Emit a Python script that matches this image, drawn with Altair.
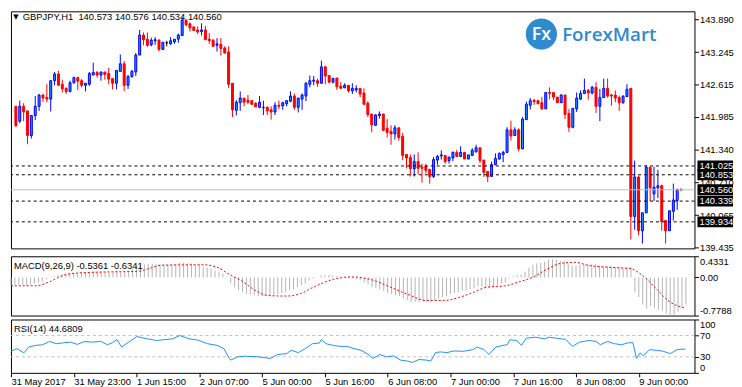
import altair as alt
import pandas as pd

# ---------------- data ----------------
idx = list(range(173))
opens = [142.19,141.90,142.19,142.10,141.62,142.01,142.19,142.41,142.36,142.33,
142.69,142.82,142.62,142.54,142.48,142.65,142.75,142.69,142.60,142.62,
142.80,142.85,142.80,142.86,142.83,142.73,142.64,142.87,143.02,142.60,
142.77,142.86,143.19,143.58,143.50,143.39,143.47,143.48,143.30,143.43,
143.41,143.45,143.50,143.57,143.87,143.80,143.74,143.68,143.65,143.68,
143.50,143.48,143.38,143.40,143.33,143.25,142.64,142.11,142.26,142.35,
142.31,142.30,142.25,142.17,142.16,142.17,142.12,142.08,142.21,142.20,
142.24,142.29,142.39,142.17,142.33,142.39,142.62,142.68,142.69,142.64,
142.96,142.79,142.66,142.74,142.58,142.55,142.60,142.49,142.51,142.54,
142.45,142.25,142.04,141.82,142.01,142.04,141.76,141.70,141.65,141.77,
141.60,141.25,141.19,140.97,141.11,141.00,141.02,140.96,140.82,141.14,
141.22,141.23,141.13,141.18,141.29,141.21,141.29,141.16,141.23,141.30,
141.38,141.14,140.92,140.82,141.05,141.16,141.25,141.29,141.73,141.62,
141.73,141.36,141.93,142.21,142.31,142.30,142.26,142.14,142.46,142.46,
142.37,142.26,142.41,142.05,141.78,142.14,142.33,142.44,142.50,142.45,
142.56,142.19,142.36,142.54,142.41,142.41,142.36,142.26,142.38,142.54,
140.04,140.81,139.76,140.11,141.00,140.48,140.60,140.64,139.96,139.76,
140.14,140.35,140.573]
highs = [142.19,142.30,142.25,142.10,142.02,142.39,142.43,142.43,142.62,142.69,
142.86,142.88,142.71,142.56,142.69,142.77,142.77,142.72,142.64,142.86,
143.04,142.88,142.86,142.86,142.94,142.73,142.89,143.20,143.07,142.80,
142.90,143.23,143.68,143.63,143.63,143.53,143.54,143.50,143.44,143.47,
143.54,143.50,143.61,143.93,143.89,143.83,143.75,143.75,143.81,143.76,
143.62,143.50,143.52,143.52,143.36,143.36,142.64,142.31,142.48,142.35,
142.41,142.31,142.27,142.39,142.30,142.19,142.19,142.27,142.30,142.28,
142.31,142.48,142.44,142.35,142.44,142.66,142.79,142.78,142.73,143.08,
142.98,142.79,142.75,142.75,142.66,142.64,142.60,142.64,142.60,142.54,
142.54,142.29,142.04,142.04,142.09,142.04,141.94,141.82,141.82,141.77,
141.67,141.25,141.25,141.25,141.29,141.07,141.07,140.96,141.20,141.24,
141.33,141.23,141.20,141.31,141.34,141.41,141.29,141.24,141.37,141.44,
141.38,141.14,140.92,141.11,141.27,141.29,141.32,141.78,141.91,141.78,
141.76,141.98,142.28,142.35,142.33,142.32,142.37,142.46,142.56,142.46,
142.37,142.43,142.41,142.14,142.15,142.46,142.50,142.73,142.53,142.59,
142.66,142.53,142.73,142.73,142.43,142.50,142.40,142.40,142.62,142.54,
141.13,140.84,140.11,141.04,141.00,141.01,140.95,140.66,139.96,140.15,
140.68,140.57,140.576]
lows = [141.79,141.86,141.90,141.45,141.56,141.92,142.10,142.27,142.27,142.09,
142.60,142.60,142.46,142.43,142.46,142.63,142.51,142.56,142.48,142.59,
142.80,142.75,142.69,142.71,142.62,142.52,142.52,142.87,142.49,142.53,
142.75,142.78,143.19,143.38,143.35,143.36,143.39,143.26,143.30,143.36,
143.39,143.41,143.43,143.57,143.75,143.65,143.67,143.60,143.57,143.48,
143.41,143.35,143.26,143.18,143.22,142.55,141.98,142.01,142.10,142.19,
142.23,142.22,142.17,142.15,142.02,142.02,141.93,142.02,142.14,142.12,
142.19,142.27,142.12,142.07,142.12,142.29,142.56,142.60,142.57,142.64,
142.62,142.64,142.64,142.51,142.54,142.55,142.46,142.43,142.46,142.37,
142.21,141.98,141.68,141.81,141.95,141.71,141.58,141.44,141.54,141.52,
141.14,140.98,140.82,140.82,140.86,140.70,140.88,140.68,140.79,141.05,
141.15,141.07,141.07,141.12,141.20,141.20,141.16,141.16,141.22,141.29,
141.08,140.81,140.71,140.82,141.04,141.15,141.10,141.29,141.52,141.61,
141.31,141.35,141.92,142.13,142.22,142.23,142.12,142.14,142.33,142.31,
142.26,142.26,141.94,141.69,141.76,142.08,142.31,142.43,142.32,142.42,
142.06,141.90,142.36,142.36,142.20,142.27,142.10,142.24,142.38,139.59,
139.78,139.67,139.51,140.11,140.34,140.34,140.40,139.76,139.51,139.76,
139.96,140.17,140.534]
closes = [141.81,142.19,142.08,141.62,142.01,142.19,142.41,142.35,142.33,142.69,
142.82,142.60,142.53,142.48,142.65,142.75,142.68,142.60,142.64,142.83,
142.85,142.80,142.86,142.81,142.72,142.64,142.89,143.02,142.60,142.77,
142.87,143.19,143.58,143.49,143.38,143.48,143.49,143.30,143.44,143.43,
143.47,143.50,143.58,143.87,143.78,143.72,143.67,143.64,143.68,143.49,
143.47,143.36,143.41,143.32,143.23,142.62,142.12,142.27,142.35,142.27,
142.27,142.23,142.18,142.27,142.17,142.10,142.08,142.21,142.19,142.26,
142.30,142.39,142.17,142.35,142.41,142.64,142.69,142.70,142.64,142.96,
142.78,142.66,142.73,142.57,142.54,142.60,142.49,142.54,142.54,142.43,
142.23,142.03,141.83,142.02,142.04,141.72,141.68,141.65,141.77,141.58,
141.23,141.18,140.97,141.11,140.98,140.98,140.94,140.82,141.15,141.21,
141.24,141.11,141.20,141.29,141.21,141.29,141.16,141.24,141.33,141.38,
141.13,140.90,140.82,141.05,141.17,141.27,141.29,141.73,141.61,141.73,
141.36,141.94,142.23,142.30,142.28,142.24,142.14,142.46,142.44,142.37,
142.26,142.41,142.03,141.78,142.15,142.35,142.44,142.50,142.45,142.56,
142.19,142.36,142.54,142.39,142.39,142.35,142.26,142.39,142.52,140.04,
140.81,139.76,140.11,141.00,140.60,140.61,140.64,139.94,139.76,140.15,
140.36,140.57,140.560]

macd_hist = [-0.16,-0.15,-0.15,-0.16,-0.17,-0.14,-0.12,-0.10,-0.08,-0.04,
0.00,0.02,0.05,0.06,0.08,0.09,0.10,0.10,0.10,0.10,
0.11,0.12,0.12,0.12,0.11,0.10,0.11,0.14,0.11,0.12,
0.14,0.18,0.24,0.26,0.27,0.28,0.28,0.27,0.27,0.27,
0.27,0.27,0.28,0.30,0.30,0.29,0.28,0.26,0.26,0.22,
0.20,0.18,0.14,0.11,0.08,0.02,-0.12,-0.20,-0.26,-0.30,
-0.34,-0.35,-0.37,-0.38,-0.38,-0.38,-0.38,-0.36,-0.34,-0.32,
-0.30,-0.26,-0.24,-0.20,-0.16,-0.12,-0.06,-0.02,0.00,0.04,
0.05,0.05,0.04,0.03,0.02,0.00,-0.02,-0.02,-0.04,-0.06,
-0.10,-0.14,-0.20,-0.22,-0.24,-0.28,-0.32,-0.34,-0.36,-0.38,
-0.43,-0.46,-0.50,-0.50,-0.50,-0.50,-0.50,-0.51,-0.46,-0.43,
-0.40,-0.37,-0.34,-0.32,-0.30,-0.27,-0.26,-0.24,-0.22,-0.18,
-0.19,-0.22,-0.22,-0.20,-0.16,-0.12,-0.10,-0.02,0.02,0.05,
0.06,0.12,0.20,0.26,0.29,0.30,0.32,0.36,0.37,0.36,
0.34,0.34,0.29,0.24,0.24,0.26,0.27,0.28,0.27,0.28,
0.24,0.22,0.24,0.23,0.22,0.22,0.20,0.21,0.22,-0.30,
-0.40,-0.55,-0.64,-0.58,-0.62,-0.66,-0.68,-0.74,-0.7788,-0.76,
-0.70,-0.62,-0.536]

sig_x = [0,6.3,9.8,13.4,16.9,22.9,32.3,34.7,38.3,48.9,52.5,56,58.4,62,65.5,70.3,73.8,77.4,82.1,86.8,
91.6,96.3,101.1,105.8,110.5,114.1,117.7,121.2,126,129.5,133.1,136.6,140.2,143.7,147.3,153.2,157.9,160.3,163.9,167.4,172]
sig_v = [-0.17,-0.17,-0.09,0.045,0.09,0.11,0.125,0.17,0.25,0.26,0.21,0.045,-0.05,-0.25,-0.37,-0.38,-0.33,-0.185,-0.04,0.01,
-0.04,-0.185,-0.345,-0.47,-0.47,-0.41,-0.31,-0.2,-0.17,-0.09,0.01,0.17,0.29,0.31,0.245,0.205,0.18,0.08,-0.185,-0.47,-0.634]

rsi_x = [0,1.5,3.3,4.5,6.3,8.1,9.8,11.6,13.4,15.2,
16.9,18.7,20.5,22.9,24.6,25.8,27,28.2,30,32.1,
34.7,37.1,39.5,41.2,43,45.4,47.7,50.1,52.5,54.3,
55.5,56,57.8,59.6,63.2,66.1,67.9,70.3,71.4,73.2,
75,76.8,78.6,79.1,80.3,82.1,83.9,85.7,87.4,89.2,
91,92.2,94,95.7,97.5,99.3,101.1,102.3,104,105.8,
107,108.2,109.4,111.1,112.9,115.3,117.7,118.8,120.6,121.8,
123.6,125.4,126.5,127.1,128.9,130.1,131.3,133.6,136,137.2,
139,141.4,143.1,144.9,147.3,149.1,150.2,152,153.8,155.6,
157.3,158.5,159.4,160.3,161.2,162.7,164.5,166.2,168,169.8,171.9]
rsi_v = [40.4,45.4,37.4,48.4,51.5,52.7,58.9,54.6,56.4,57.6,
53.3,58.9,57.6,58.9,52.7,56.4,62.5,48.4,57.6,68,
63.8,60.7,62.5,63.8,70,63.8,61.3,54.6,51.5,45.4,
28.2,23.9,30,31.2,30,27,34.3,36.1,42.3,38,
45.4,54.6,55.8,62.5,54.6,51.5,49.6,49.6,45.4,42.3,
34.9,27,34.3,30,31.8,23.9,22,19.6,25,23.9,
22,38,39.2,38,41,40.4,43.5,48.4,43.5,34.3,
48.4,51.5,52.7,61.9,60.7,51.5,65,66.8,63.8,66.8,
65,62.5,49.6,57.6,60.7,58.9,52.7,58.9,54.6,52.7,
56.4,56.4,27,37.4,31.8,43.5,42.3,40.4,36.1,43.5,44.7]

price_ticks = [143.890,143.245,142.615,141.985,141.340,140.710,140.065,139.435]
level_lines = [141.025,140.853,140.339,139.934]
bid_price = [140.560]
box_levels = [141.025,140.853,140.560,140.339,139.934]
box_texts = ["141.025","140.853","140.560","140.339","139.934"]
x_tick_idx = [0,16,32,48,64,80,96,112,128,144,160]
x_tick_lbl = ["31 May 2017","31 May 23:00","1 Jun 15:00","2 Jun 07:00","5 Jun 00:00",
              "5 Jun 16:00","6 Jun 08:00","7 Jun 00:00","7 Jun 16:00","8 Jun 08:00","9 Jun 00:00"]
title_text = "GBPJPY,H1\u00a0\u00a0140.573 140.576 140.534 140.560"
macd_text = "MACD(9,26,9) -0.5361 -0.6341"
rsi_text = "RSI(14) 44.6809"

# ---------------- chart ----------------
W = 692
H_MAIN, H_MACD, H_RSI = 240, 60, 54
FONT = "Liberation Sans"
FS = 9.5

df = pd.DataFrame({"i": idx, "o": opens, "h": highs, "l": lows, "c": closes})
df["dir"] = ["up" if c > o else ("down" if c < o else "flat") for o, c in zip(opens, closes)]

xs = alt.Scale(domain=[0, 174.19], nice=False, zero=False)
ys = alt.Scale(domain=[139.416, 144.044], nice=False, zero=False)
dir_dom = ["up", "down", "flat"]

def raxis(**kw):
    return alt.Axis(orient="right", title=None, grid=False, domain=False, tickSize=4,
                    tickColor="black", labelColor="black", labelFont=FONT,
                    labelFontSize=FS, labelPadding=1, zindex=0, **kw)

price_axis = raxis(values=price_ticks, format=".3f")

wicks = alt.Chart(df).mark_rule(strokeWidth=1, clip=True).encode(
    x=alt.X("i:Q", scale=xs, axis=None),
    y=alt.Y("l:Q", scale=ys, axis=price_axis),
    y2="h:Q",
    color=alt.Color("dir:N", scale=alt.Scale(domain=dir_dom, range=["#0000ff", "#ff0000", "#000000"]), legend=None),
)
bodies = alt.Chart(df).mark_bar(size=2, strokeWidth=1, clip=True).encode(
    x=alt.X("i:Q", scale=xs, axis=None),
    y=alt.Y("o:Q", scale=ys, axis=price_axis),
    y2="c:Q",
    fill=alt.Fill("dir:N", scale=alt.Scale(domain=dir_dom, range=["#1e90ff", "#ff0000", "#000000"]), legend=None),
    stroke=alt.Stroke("dir:N", scale=alt.Scale(domain=dir_dom, range=["#0000ff", "#ff0000", "#000000"]), legend=None),
)
bid = alt.Chart(pd.DataFrame({"level": bid_price})).mark_rule(color="#c0c0c0", strokeWidth=1).encode(
    y=alt.Y("level:Q", scale=ys, axis=price_axis))
lvls = alt.Chart(pd.DataFrame({"level": level_lines})).mark_rule(color="black", strokeDash=[3, 3], strokeWidth=1).encode(
    y=alt.Y("level:Q", scale=ys, axis=price_axis))
box_df = pd.DataFrame({"level": box_levels, "txt": box_texts})
boxes = alt.Chart(box_df).mark_tick(orient="horizontal", thickness=11, size=36, color="black", opacity=1).encode(
    x=alt.value(W + 21), y=alt.Y("level:Q", scale=ys, axis=price_axis))
box_txt = alt.Chart(box_df).mark_text(align="left", baseline="middle", color="white", font=FONT, fontSize=FS).encode(
    x=alt.value(W + 5), y=alt.Y("level:Q", scale=ys, axis=price_axis), text="txt:N")
tri = alt.Chart(pd.DataFrame({"t": ["\u25bc"]})).mark_text(align="center", baseline="middle", font="DejaVu Sans",
                                                           fontSize=7, color="black").encode(
    x=alt.value(5), y=alt.value(6), text="t:N")
ttl = alt.Chart(pd.DataFrame({"t": [title_text]})).mark_text(align="left", baseline="middle", font=FONT,
                                                             fontSize=FS, color="black").encode(
    x=alt.value(12), y=alt.value(6), text="t:N")
logo_c = alt.Chart(pd.DataFrame({"t": ["c"]})).mark_point(shape="circle", filled=True, size=1000,
                                                           color="#2e8bcf", opacity=1).encode(
    x=alt.value(537), y=alt.value(23))
logo_fx = alt.Chart(pd.DataFrame({"t": ["Fx"]})).mark_text(align="center", baseline="middle", font="Open Sans",
                                                            fontSize=18, fontWeight=600, color="white").encode(
    x=alt.value(537), y=alt.value(24), text="t:N")
logo_t = alt.Chart(pd.DataFrame({"t": ["ForexMart"]})).mark_text(align="left", baseline="middle", font="Open Sans",
                                                                  fontSize=19, fontWeight=600, color="#2e8bcf").encode(
    x=alt.value(558), y=alt.value(24), text="t:N")

main = alt.layer(wicks, bodies, bid, lvls, boxes, box_txt, tri, ttl, logo_c, logo_fx, logo_t).properties(
    width=W, height=H_MAIN)

# MACD panel
ms = alt.Scale(domain=[-0.7788, 0.4331], nice=False, zero=False)
macd_axis = raxis(values=[0.4331, 0.0, -0.7788], labelFlush=True,
                  labelExpr="datum.value == 0 ? '0.00' : (datum.value < 0 ? '-' + format(-datum.value, '.4f') : format(datum.value, '.4f'))")
macd_df = pd.DataFrame({"i": idx, "m": macd_hist})
hbars = alt.Chart(macd_df).mark_rule(color="#b4b4b4", strokeWidth=1).encode(
    x=alt.X("i:Q", scale=xs, axis=None),
    y=alt.Y("m:Q", scale=ms, axis=macd_axis),
    y2=alt.datum(0))
sig = alt.Chart(pd.DataFrame({"sx": sig_x, "sv": sig_v})).mark_line(
    color="#ff0000", strokeDash=[2, 2], strokeWidth=1, interpolate="monotone").encode(
    x=alt.X("sx:Q", scale=xs, axis=None),
    y=alt.Y("sv:Q", scale=ms, axis=macd_axis))
macd_lbl = alt.Chart(pd.DataFrame({"t": [macd_text]})).mark_text(align="left", baseline="middle", font=FONT,
                                                                  fontSize=FS, color="black").encode(
    x=alt.value(3), y=alt.value(10), text="t:N")
macd = alt.layer(hbars, sig, macd_lbl).properties(width=W, height=H_MACD)

# RSI panel
rs = alt.Scale(domain=[0, 100], nice=False, zero=False)
rsi_axis = raxis(values=[100, 70, 30, 0], labelFlush=True)
lbl_expr = "[" + ",".join("'%s'" % s for s in x_tick_lbl) + "][indexof([" + ",".join(str(v) for v in x_tick_idx) + "], datum.value)]"
x_axis = alt.Axis(values=x_tick_idx, labelExpr=lbl_expr, labelAlign="left", labelFlush=False, tickSize=4,
                  labelPadding=0, grid=False, domain=False, title=None, tickColor="black", labelColor="black",
                  labelFont=FONT, labelFontSize=FS, labelOverlap=False)
rsi_line = alt.Chart(pd.DataFrame({"rx": rsi_x, "rv": rsi_v})).mark_line(color="#1e90ff", strokeWidth=1).encode(
    x=alt.X("rx:Q", scale=xs, axis=x_axis),
    y=alt.Y("rv:Q", scale=rs, axis=rsi_axis))
rsi_lvls = alt.Chart(pd.DataFrame({"level": [70, 30]})).mark_rule(color="#c0c0c0", strokeDash=[3, 3], strokeWidth=1).encode(
    y=alt.Y("level:Q", scale=rs, axis=rsi_axis))
rsi_lbl = alt.Chart(pd.DataFrame({"t": [rsi_text]})).mark_text(align="left", baseline="middle", font=FONT,
                                                                fontSize=FS, color="black").encode(
    x=alt.value(3), y=alt.value(10), text="t:N")
rsi = alt.layer(rsi_lvls, rsi_line, rsi_lbl).properties(width=W, height=H_RSI)

chart = alt.vconcat(main, macd, rsi, spacing=2).properties(padding=0, background="white").configure_view(
    stroke="black", strokeWidth=1).resolve_scale(color="independent")

chart.save("out.html", embed_options={"renderer": "svg", "actions": False})
